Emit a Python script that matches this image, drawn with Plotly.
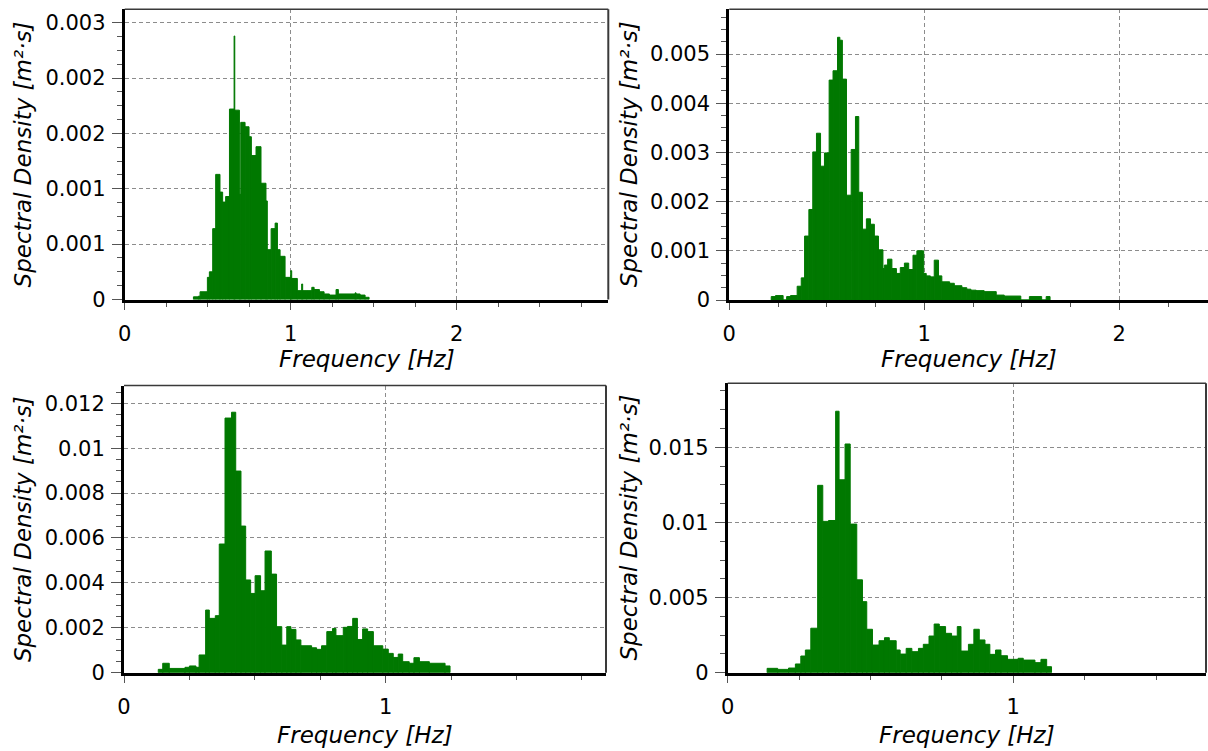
import plotly.graph_objects as go

# ---------------- data ----------------
# Panel A (top-left): bin edges [Hz] and spectral density [m^2 s]
a_edges = [0.414, 0.444, 0.454, 0.498, 0.510, 0.530, 0.548, 0.574, 0.590, 0.608,
           0.631, 0.659, 0.663, 0.691, 0.699, 0.725, 0.749, 0.763, 0.791, 0.821,
           0.851, 0.859, 0.882, 0.906, 0.920, 0.936, 0.966, 1.000, 1.006, 1.040,
           1.066, 1.072, 1.096, 1.127, 1.141, 1.173, 1.201, 1.233, 1.273, 1.287,
           1.388, 1.394, 1.418, 1.448, 1.472]
a_psd = [0.024e-3, 0.03e-3, 0.07e-3, 0.20e-3, 0.25e-3, 0.64e-3, 1.13e-3, 0.97e-3, 0.88e-3, 0.93e-3,
         1.72e-3, 2.38e-3, 1.71e-3, 0.95e-3, 1.60e-3, 1.56e-3, 1.47e-3, 1.30e-3, 1.38e-3, 1.05e-3,
         0.89e-3, 0.45e-3, 0.64e-3, 0.69e-3, 0.45e-3, 0.39e-3, 0.20e-3, 0.26e-3, 0.19e-3, 0.08e-3,
         0.14e-3, 0.08e-3, 0.08e-3, 0.11e-3, 0.09e-3, 0.07e-3, 0.05e-3, 0.04e-3, 0.09e-3, 0.05e-3,
         0.06e-3, 0.05e-3, 0.04e-3, 0.02e-3]

# Panel B (top-right)
b_edges = [0.215, 0.237, 0.276, 0.294, 0.314, 0.348, 0.369, 0.386, 0.408, 0.428,
           0.447, 0.468, 0.488, 0.512, 0.532, 0.555, 0.567, 0.580, 0.601, 0.625,
           0.647, 0.664, 0.683, 0.703, 0.724, 0.744, 0.765, 0.788, 0.795, 0.812,
           0.834, 0.857, 0.877, 0.898, 0.920, 0.942, 0.962, 0.997, 1.010, 1.031,
           1.051, 1.073, 1.090, 1.130, 1.154, 1.193, 1.218, 1.239, 1.266, 1.307,
           1.369, 1.410, 1.495, 1.539, 1.602, 1.625, 1.645]
b_psd = [0.07e-3, 0.09e-3, 0.0, 0.07e-3, 0.09e-3, 0.28e-3, 0.45e-3, 1.30e-3, 1.84e-3, 3.01e-3,
         3.39e-3, 2.72e-3, 2.99e-3, 4.47e-3, 4.66e-3, 5.34e-3, 5.28e-3, 4.49e-3, 2.13e-3, 3.06e-3,
         3.73e-3, 2.19e-3, 1.44e-3, 1.65e-3, 1.54e-3, 1.30e-3, 1.02e-3, 0.64e-3, 0.71e-3, 0.83e-3,
         0.64e-3, 0.54e-3, 0.66e-3, 0.75e-3, 0.62e-3, 0.91e-3, 1.00e-3, 0.54e-3, 0.49e-3, 0.47e-3,
         0.81e-3, 0.49e-3, 0.37e-3, 0.34e-3, 0.29e-3, 0.25e-3, 0.22e-3, 0.20e-3, 0.19e-3, 0.17e-3,
         0.10e-3, 0.08e-3, 0.0, 0.07e-3, 0.0, 0.07e-3]

# Panel C (bottom-left)
c_edges = [0.131, 0.148, 0.173, 0.233, 0.250, 0.275, 0.287, 0.312, 0.326, 0.349,
           0.364, 0.386, 0.411, 0.427, 0.447, 0.465, 0.484, 0.501, 0.522, 0.539,
           0.563, 0.583, 0.603, 0.622, 0.638, 0.657, 0.676, 0.717, 0.736, 0.755,
           0.775, 0.797, 0.810, 0.838, 0.854, 0.874, 0.892, 0.912, 0.931, 0.953,
           0.989, 1.010, 1.029, 1.048, 1.065, 1.090, 1.108, 1.129, 1.167, 1.227,
           1.246]
c_psd = [0.15e-3, 0.42e-3, 0.19e-3, 0.24e-3, 0.30e-3, 0.24e-3, 0.79e-3, 2.79e-3, 2.42e-3, 2.54e-3,
         5.73e-3, 11.34e-3, 11.60e-3, 8.98e-3, 6.53e-3, 4.13e-3, 3.53e-3, 4.32e-3, 3.65e-3, 5.42e-3,
         4.39e-3, 2.05e-3, 1.23e-3, 2.05e-3, 1.93e-3, 1.46e-3, 1.20e-3, 1.11e-3, 1.04e-3, 1.20e-3,
         1.83e-3, 1.97e-3, 1.65e-3, 2.02e-3, 2.06e-3, 2.42e-3, 1.48e-3, 1.95e-3, 1.83e-3, 1.20e-3,
         1.05e-3, 0.86e-3, 0.68e-3, 0.83e-3, 0.49e-3, 0.42e-3, 0.67e-3, 0.49e-3, 0.42e-3, 0.30e-3]

# Panel D (bottom-right)
d_edges = [0.138, 0.175, 0.213, 0.237, 0.256, 0.272, 0.291, 0.315, 0.333, 0.353,
           0.378, 0.390, 0.411, 0.429, 0.452, 0.472, 0.487, 0.507, 0.530, 0.549,
           0.566, 0.590, 0.604, 0.625, 0.645, 0.668, 0.685, 0.705, 0.723, 0.741,
           0.763, 0.784, 0.804, 0.817, 0.843, 0.862, 0.881, 0.901, 0.918, 0.938,
           0.957, 0.980, 1.017, 1.035, 1.076, 1.097, 1.117, 1.134]
d_psd = [0.29e-3, 0.22e-3, 0.31e-3, 0.58e-3, 1.11e-3, 1.51e-3, 2.96e-3, 12.47e-3, 10.07e-3, 10.13e-3,
         17.4e-3, 12.84e-3, 15.22e-3, 9.89e-3, 6.18e-3, 4.73e-3, 2.89e-3, 1.84e-3, 2.13e-3, 2.33e-3,
         2.13e-3, 1.51e-3, 1.24e-3, 1.62e-3, 1.40e-3, 1.62e-3, 1.89e-3, 2.44e-3, 3.24e-3, 3.07e-3,
         2.62e-3, 2.44e-3, 3.07e-3, 1.44e-3, 1.89e-3, 2.89e-3, 2.18e-3, 1.89e-3, 1.22e-3, 1.51e-3,
         1.13e-3, 0.89e-3, 0.96e-3, 0.84e-3, 0.67e-3, 0.89e-3, 0.40e-3]

# tick values / labels
a_yticks = [0, 0.0005, 0.001, 0.0015, 0.002, 0.0025]
a_ylabels = ["0", "0.001", "0.001", "0.002", "0.002", "0.003"]
b_yticks = [0, 0.001, 0.002, 0.003, 0.004, 0.005]
b_ylabels = ["0", "0.001", "0.002", "0.003", "0.004", "0.005"]
c_yticks = [0, 0.002, 0.004, 0.006, 0.008, 0.010, 0.012]
c_ylabels = ["0", "0.002", "0.004", "0.006", "0.008", "0.01", "0.012"]
d_yticks = [0, 0.005, 0.010, 0.015]
d_ylabels = ["0", "0.005", "0.01", "0.015"]
ab_xticks = [0, 1, 2]
ab_xlabels = ["0", "1", "2"]
cd_xticks = [0, 1]
cd_xlabels = ["0", "1"]

Y_TITLE = "Spectral Density [m²·s]"
X_TITLE = "Frequency [Hz]"

# ---------------- layout geometry (pixels) ----------------
W, H = 1208, 751
GREEN = "#007800"
FONT = "DejaVu Sans"
GRID = "#8c8c8c"

panels = [
    dict(e=a_edges, v=a_psd, px=(124.7, 608.3), py=(9.3, 299.5), xr=2.913, yr=0.002621,
         yt=a_yticks, yl=a_ylabels, xt=ab_xticks, xl=ab_xlabels, ym=0.000125, right=True),
    dict(e=b_edges, v=b_psd, px=(729.3, 1208), py=(9.3, 300.0), xr=2.455, yr=0.005909,
         yt=b_yticks, yl=b_ylabels, xt=ab_xticks, xl=ab_xlabels, ym=0.00025, right=False),
    dict(e=c_edges, v=c_psd, px=(124.0, 606.0), py=(385.5, 672.7), xr=1.842, yr=0.01279,
         yt=c_yticks, yl=c_ylabels, xt=cd_xticks, xl=cd_xlabels, ym=0.0005, right=True),
    dict(e=d_edges, v=d_psd, px=(727.7, 1206.0), py=(383.3, 672.7), xr=1.675, yr=0.01926,
         yt=d_yticks, yl=d_ylabels, xt=cd_xticks, xl=cd_xlabels, ym=0.00125, right=True),
]

fig = go.Figure()
shapes = []
annotations = []

for i, p in enumerate(panels, start=1):
    xa = "x" if i == 1 else f"x{i}"
    ya = "y" if i == 1 else f"y{i}"
    e = p["e"]
    lo = e[:-1]
    widths = [e[k + 1] - e[k] for k in range(len(e) - 1)]
    fig.add_trace(go.Bar(
        x=lo, y=p["v"], width=widths, offset=0,
        marker=dict(color=GREEN, line=dict(width=1, color=GREEN)),
        xaxis=xa, yaxis=ya, showlegend=False, hoverinfo="x+y",
    ))

    xkey = "xaxis" if i == 1 else f"xaxis{i}"
    ykey = "yaxis" if i == 1 else f"yaxis{i}"
    x0, x1 = p["px"]
    yt_, yb_ = p["py"]
    fig.update_layout(**{
        xkey: dict(
            domain=[x0 / W, min(x1 / W, 1.0)], anchor=ya, range=[0, p["xr"]],
            automargin=False,
            tickmode="array", tickvals=p["xt"], ticktext=p["xl"],
            ticks="outside", ticklen=7, tickwidth=1, tickcolor="#555",
            showline=True, linewidth=3, linecolor="black",
            showgrid=True, gridcolor=GRID, gridwidth=1, griddash="4px,3px",
            zeroline=False, ticklabelstandoff=6,
            tickfont=dict(family=FONT, size=21, color="black"),
            minor=dict(tickmode="linear", tick0=0, dtick=0.25, ticks="outside",
                       ticklen=4, tickwidth=1, tickcolor="#555", showgrid=False),
            fixedrange=True,
        ),
        ykey: dict(
            domain=[1 - yb_ / H, 1 - yt_ / H], anchor=xa, range=[0, p["yr"]],
            automargin=False,
            tickmode="array", tickvals=p["yt"], ticktext=p["yl"],
            ticks="outside", ticklen=10, tickwidth=1, tickcolor="#555",
            showline=True, linewidth=3, linecolor="black",
            showgrid=True, gridcolor=GRID, gridwidth=1, griddash="4px,3px",
            zeroline=False, ticklabelstandoff=2,
            tickfont=dict(family=FONT, size=21, color="black"),
            minor=dict(tickmode="linear", tick0=0, dtick=p["ym"], ticks="outside",
                       ticklen=5, tickwidth=1, tickcolor="#555", showgrid=False),
            fixedrange=True,
        ),
    })

    # thin top (and right) frame lines
    shapes.append(dict(type="line", xref=f"{xa} domain", yref=f"{ya} domain",
                       x0=0, x1=1, y0=1, y1=1, line=dict(color="#3a3a3a", width=1.5)))
    if p["right"]:
        shapes.append(dict(type="line", xref=f"{xa} domain", yref=f"{ya} domain",
                           x0=1, x1=1, y0=0, y1=1, line=dict(color="#3a3a3a", width=2)))

    # axis titles
    ycen = (yt_ + yb_) / 2
    ytitle_x = 23 if x0 < 400 else 628.5
    annotations.append(dict(
        text=Y_TITLE, xref="paper", yref="paper", x=ytitle_x / W, y=1 - ycen / H,
        xanchor="center", yanchor="middle", textangle=-90, showarrow=False,
        font=dict(family=FONT, size=23, color="black", style="italic"),
    ))
    xcen = (x0 + min(x1, W)) / 2
    xtitle_y = 359 if yt_ < 200 else 735
    annotations.append(dict(
        text=X_TITLE, xref="paper", yref="paper", x=xcen / W, y=1 - xtitle_y / H,
        xanchor="center", yanchor="middle", showarrow=False,
        font=dict(family=FONT, size=23, color="black", style="italic"),
    ))

fig.update_layout(
    width=W, height=H, margin=dict(l=0, r=0, t=0, b=0, autoexpand=False),
    paper_bgcolor="white", plot_bgcolor="white",
    shapes=shapes, annotations=annotations, showlegend=False,
    barmode="overlay",
)

fig.write_html("out.html", config=dict(displayModeBar=False))
